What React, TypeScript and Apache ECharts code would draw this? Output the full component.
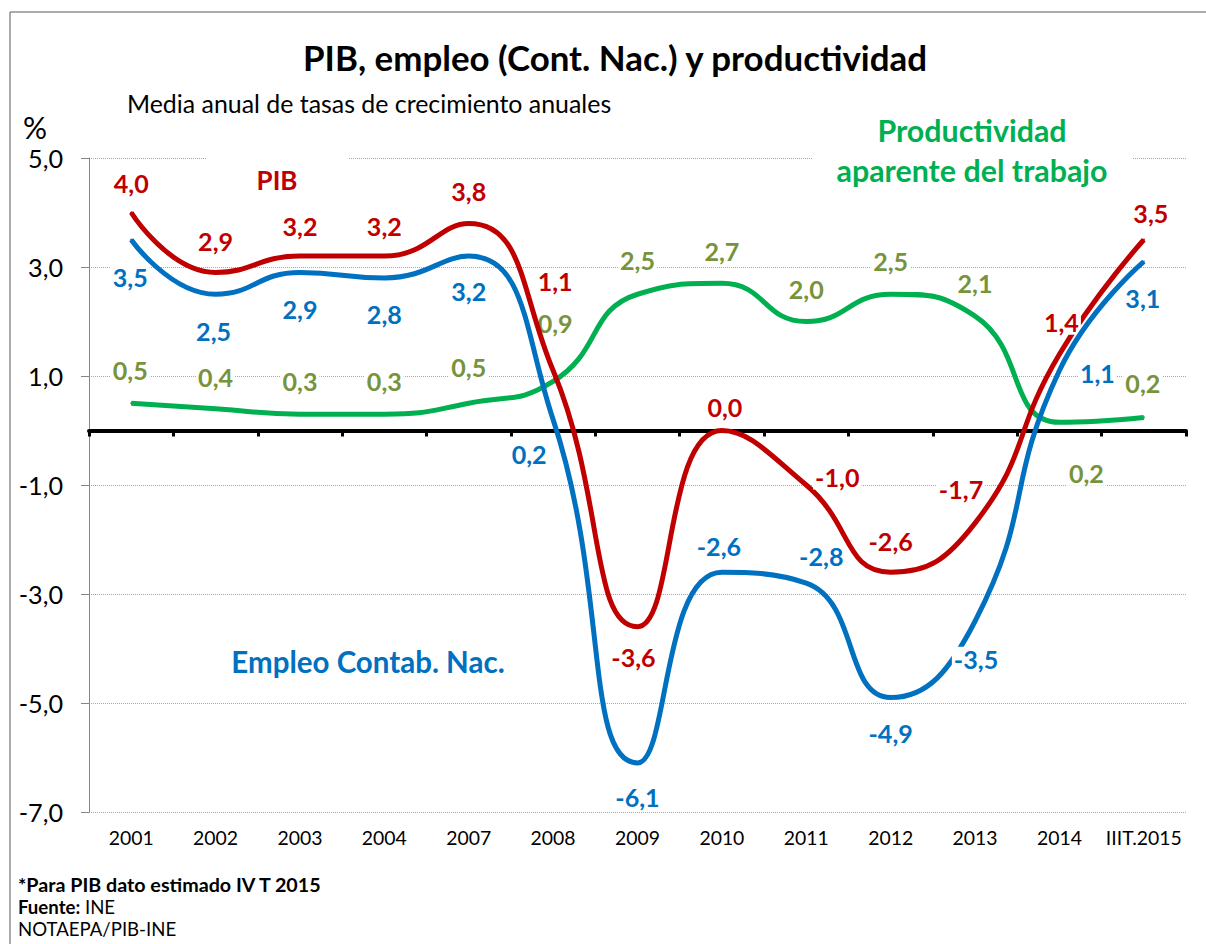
import React, { useEffect, useRef } from "react";
import * as echarts from "echarts";

const categories = ["2001", "2002", "2003", "2004", "2007", "2008", "2009", "2010", "2011", "2012", "2013", "2014", "IIIT.2015"];
const pib = [4.0, 2.9, 3.2, 3.2, 3.8, 1.1, -3.6, 0.0, -1.0, -2.6, -1.7, 1.4, 3.5];
const empleo = [3.5, 2.5, 2.9, 2.8, 3.2, 0.2, -6.1, -2.6, -2.8, -4.9, -3.5, 1.1, 3.1];
const productividad = [0.5, 0.4, 0.3, 0.3, 0.5, 0.9, 2.5, 2.7, 2.0, 2.5, 2.1, 0.15, 0.24];

// label offsets [dx, dy] relative to each point
const pibOffsets = [[0, -30], [0, -31], [0, -30], [0, -30], [0, -32], [2, -90], [-4, 30], [3, -24], [31, -8], [0, -31], [-14, -34], [2, -32], [7, -27]];
const empOffsets = [[-1, 37], [-2, 37], [0, 37], [0, 36], [0, 35], [-24, 34], [0, 34], [-3, -26], [15, -27], [0, 35], [1, 38], [38, 2], [-1, 36]];
const proOffsets = [[-1, -33], [0, -32], [0, -33], [0, -33], [0, -36], [2, -58], [0, -34], [0, -32], [0, -33], [0, -33], [0, -33], [27, 51], [-1, -34]];

const FONT_NAME = "Lato";
const FONT = "Lato, 'Open Sans', sans-serif";
const fmt = (v: number) => (Math.round(v * 10) / 10).toFixed(1).replace(".", ",");

function fitSize(text: string, weight: string, target: number, fallback: number) {
  try {
    const ctx = document.createElement("canvas").getContext("2d");
    if (!ctx) return fallback;
    ctx.font = `${weight} 100px ${FONT_NAME}`;
    const w = ctx.measureText(text).width;
    if (!w) return fallback;
    return Math.round((100 * target / w) * 10) / 10;
  } catch (e) {
    return fallback;
  }
}

export default function App() {
  const ref = useRef<HTMLDivElement>(null);
  useEffect(() => {
    if (!ref.current) return;
    const sTitle = fitSize("PIB, empleo (Cont. Nac.) y productividad", "bold", 626, 35);
    const sSub = fitSize("Media anual de tasas de crecimiento anuales", "normal", 484, 24);
    const sPib = fitSize("PIB", "bold", 41, 26);
    const sProd = fitSize("aparente del trabajo", "bold", 271, 28);
    const sEmp = fitSize("Empleo Contab. Nac.", "bold", 273, 28);
    const sLab = fitSize("4,0", "bold", 35, 22);
    const sY = fitSize("5,0", "normal", 35, 23);
    const sX = fitSize("2001", "normal", 45, 19);
    const sFoot = fitSize("*Para PIB dato estimado IV T 2015", "bold", 305, 19);
    const sFoot2 = fitSize("NOTAEPA/PIB-INE", "normal", 158, 18);

    const mkSeries = (name: string, vals: number[], offs: number[][], lineColor: string, labelColor: string, z: number) => ({
      name,
      type: "line",
      xAxisIndex: 0,
      data: vals.map((v, i) => ({ value: v, label: { offset: offs[i] } })),
      smooth: 0.5,
      symbol: "circle",
      symbolSize: 2,
      z,
      itemStyle: { color: lineColor },
      lineStyle: { color: lineColor, width: 5 },
      label: {
        show: true,
        position: "inside",
        formatter: (p: any) => fmt(p.value),
        color: labelColor,
        fontFamily: FONT,
        fontWeight: "bold",
        fontSize: sLab,
        backgroundColor: "#ffffff",
        padding: [0, 2],
      },
      emphasis: { disabled: true },
    });

    const chart = echarts.init(ref.current, null, { renderer: "svg" });
    chart.setOption({
      animation: false,
      backgroundColor: "#ffffff",
      textStyle: { fontFamily: FONT },
      grid: { left: 89, right: 20, top: 158, bottom: 132, containLabel: false },
      xAxis: [
        {
          type: "category",
          data: categories,
          boundaryGap: true,
          position: "bottom",
          axisLine: { show: false, onZero: false },
          axisTick: { show: false },
          axisLabel: { color: "#000", fontSize: sX, fontFamily: FONT, margin: 16, interval: 0 },
          splitLine: { show: false },
        },
        {
          type: "category",
          data: categories,
          boundaryGap: true,
          position: "bottom",
          axisLine: { show: true, onZero: true, lineStyle: { color: "#000", width: 4 } },
          axisTick: { show: true, length: 6, interval: 0, lineStyle: { color: "#000", width: 3 } },
          axisLabel: { show: false },
          splitLine: { show: false },
        },
      ],
      yAxis: {
        type: "value",
        min: -7,
        max: 5,
        interval: 2,
        axisLine: { show: true, lineStyle: { color: "#868686", width: 1 } },
        axisTick: { show: true, length: 8, lineStyle: { color: "#868686" } },
        axisLabel: { color: "#000", fontSize: sY, fontFamily: FONT, margin: 26, formatter: (v: number) => fmt(v) },
        splitLine: { show: true, lineStyle: { color: "#a6a6a6", type: "dotted", width: 1 } },
      },
      series: [
        mkSeries("Productividad aparente del trabajo", productividad, proOffsets, "#00b050", "#77933c", 2),
        mkSeries("PIB", pib, pibOffsets, "#c00000", "#c00000", 3),
        mkSeries("Empleo Contab. Nac.", empleo, empOffsets, "#0070c0", "#0070c0", 4),
      ],
      graphic: [
        { type: "rect", shape: { x: 10, y: 12, width: 1400, height: 1100 }, style: { fill: "none", stroke: "#595959", lineWidth: 1 }, silent: true },
        { type: "text", x: 615, y: 57, style: { text: "PIB, empleo (Cont. Nac.) y productividad", fontFamily: FONT, fontWeight: "bold", fontSize: sTitle, fill: "#000", align: "center", verticalAlign: "middle" } },
        { type: "text", x: 127, y: 103, style: { text: "Media anual de tasas de crecimiento anuales", fontFamily: FONT, fontSize: sSub, fill: "#000", align: "left", verticalAlign: "middle" } },
        { type: "text", x: 23, y: 127, style: { text: "%", fontFamily: FONT, fontSize: 30, fill: "#000", align: "left", verticalAlign: "middle" } },
        { type: "rect", shape: { x: 206, y: 150, width: 142, height: 45 }, style: { fill: "#ffffff" }, z: 50 },
        { type: "text", x: 277, y: 180, z: 51, style: { text: "PIB", fontFamily: FONT, fontWeight: "bold", fontSize: sPib, fill: "#c00000", align: "center", verticalAlign: "middle" } },
        { type: "rect", shape: { x: 813, y: 108, width: 320, height: 84 }, style: { fill: "#ffffff" }, z: 50 },
        { type: "text", x: 972, y: 150, z: 51, style: { text: "Productividad\naparente del trabajo", fontFamily: FONT, fontWeight: "bold", fontSize: sProd, lineHeight: 40, fill: "#00b050", align: "center", verticalAlign: "middle" } },
        { type: "text", x: 368, y: 661, z: 51, style: { text: "Empleo Contab. Nac.", fontFamily: FONT, fontWeight: "bold", fontSize: sEmp, fill: "#0070c0", align: "center", verticalAlign: "middle" } },
        { type: "text", x: 18, y: 884, style: { text: "*Para PIB dato estimado IV T 2015", fontFamily: FONT, fontWeight: "bold", fontSize: sFoot, fill: "#000", align: "left", verticalAlign: "middle" } },
        { type: "text", x: 18, y: 907, style: { text: "{b|Fuente:} INE", fontFamily: FONT, fontSize: sFoot2, fill: "#000", align: "left", verticalAlign: "middle", rich: { b: { fontFamily: FONT, fontWeight: "bold", fontSize: sFoot2, fill: "#000" } } } },
        { type: "text", x: 18, y: 929, style: { text: "NOTAEPA/PIB-INE", fontFamily: FONT, fontSize: sFoot2, fill: "#000", align: "left", verticalAlign: "middle" } },
      ],
    });
    return () => chart.dispose();
  }, []);
  return <div ref={ref} style={{ width: 1206, height: 944, position: "absolute", left: 0, top: 0 }} />;
}
